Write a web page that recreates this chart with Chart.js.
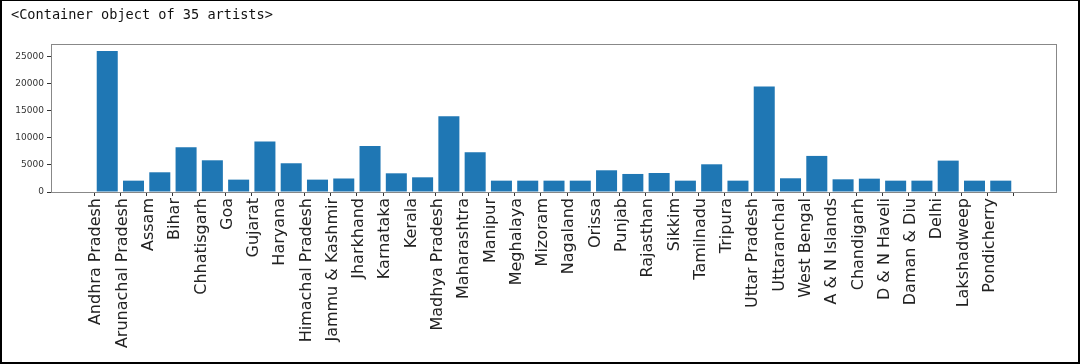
<!DOCTYPE html>
<html>
<head>
<meta charset="utf-8">
<script src="https://cdn.jsdelivr.net/npm/chart.js@4"></script>
<style>
  html, body { margin: 0; padding: 0; background: #fff; }
  #wrap { position: relative; width: 1080px; height: 364px; overflow: hidden; }
  #chart { position: absolute; left: 0; top: 0; }
  #frame {
    position: absolute; left: 0; top: 0; width: 1080px; height: 364px;
    box-sizing: border-box; border: 2px solid #000; border-top-width: 1px;
    pointer-events: none;
  }
  #repr {
    position: absolute; left: 11px; top: 6px;
    font: 13.6px "DejaVu Sans Mono", monospace; color: #111; white-space: pre;
  }
</style>
</head>
<body>
<div id="wrap">
  <canvas id="chart" width="1080" height="364"></canvas>
  <div id="repr">&lt;Container object of 35 artists&gt;</div>
  <div id="frame"></div>
</div>
<script>
// state names along the x axis
const STATES = [
  'Andhra Pradesh', 'Arunachal Pradesh', 'Assam', 'Bihar', 'Chhatisgarh',
  'Goa', 'Gujarat', 'Haryana', 'Himachal Pradesh', 'Jammu & Kashmir',
  'Jharkhand', 'Karnataka', 'Kerala', 'Madhya Pradesh', 'Maharashtra',
  'Manipur', 'Meghalaya', 'Mizoram', 'Nagaland', 'Orissa',
  'Punjab', 'Rajasthan', 'Sikkim', 'Tamilnadu', 'Tripura',
  'Uttar Pradesh', 'Uttaranchal', 'West Bengal', 'A & N Islands', 'Chandigarh',
  'D & N Haveli', 'Daman & Diu', 'Delhi', 'Lakshadweep', 'Pondicherry',
];

// bar heights
const VALUES = [
  26100, 2100, 3650, 8290, 5870,
  2290, 9340, 5320, 2290, 2500,
  8530, 3460, 2720, 14040, 7360,
  2100, 2100, 2100, 2100, 4020,
  3340, 3520, 2100, 5130, 2100,
  19540, 2540, 6680, 2350, 2470,
  2100, 2100, 5810, 2100, 2100,
];

const Y_TICKS = [0, 5000, 10000, 15000, 20000, 25000];
const Y_MAX = 27400;
const X_MIN = -2.14;
const X_MAX = 36.14;

// grey box around the plot area (matplotlib spines)
const spinePlugin = {
  id: 'spines',
  afterDraw(chart) {
    const { ctx, chartArea: { left, right, top, bottom } } = chart;
    ctx.save();
    ctx.strokeStyle = '#888';
    ctx.lineWidth = 1;
    ctx.strokeRect(left + 0.5, top + 0.5, right - left - 1, bottom - top);
    ctx.restore();
  },
};

new Chart(document.getElementById('chart'), {
  type: 'bar',
  plugins: [spinePlugin],
  data: {
    datasets: [{
      data: VALUES.map((v, i) => ({ x: i, y: v })),
      backgroundColor: '#1f77b4',
      borderWidth: 0,
      barPercentage: 0.8,
      categoryPercentage: 1,
    }],
  },
  options: {
    responsive: false,
    animation: false,
    events: [],
    layout: { padding: { top: 44, right: 23, left: 0, bottom: 0 } },
    plugins: { legend: { display: false }, tooltip: { enabled: false } },
    scales: {
      x: {
        type: 'linear',
        min: X_MIN,
        max: X_MAX,
        offset: false,
        afterBuildTicks(scale) {
          scale.ticks = STATES.map((_, i) => ({ value: i }));
        },
        afterFit(scale) { scale.height = 172; },
        grid: { drawOnChartArea: false, drawTicks: true, tickLength: 4, color: '#333' },
        border: { display: false },
        ticks: {
          autoSkip: false,
          minRotation: 90,
          maxRotation: 90,
          padding: 2,
          labelOffset: -11,
          color: '#222',
          font: { family: 'DejaVu Sans', size: 16 },
          callback: v => STATES[v] ?? '',
        },
      },
      y: {
        min: 0,
        max: Y_MAX,
        afterBuildTicks(scale) {
          scale.ticks = Y_TICKS.map(v => ({ value: v }));
        },
        afterFit(scale) { scale.width = 51; },
        grid: { drawOnChartArea: false, drawTicks: true, tickLength: 4, color: '#333' },
        border: { display: false },
        ticks: {
          padding: 3,
          color: '#333',
          font: { family: 'DejaVu Sans', size: 9 },
          callback: v => String(v),
        },
      },
    },
  },
});
</script>
</body>
</html>
